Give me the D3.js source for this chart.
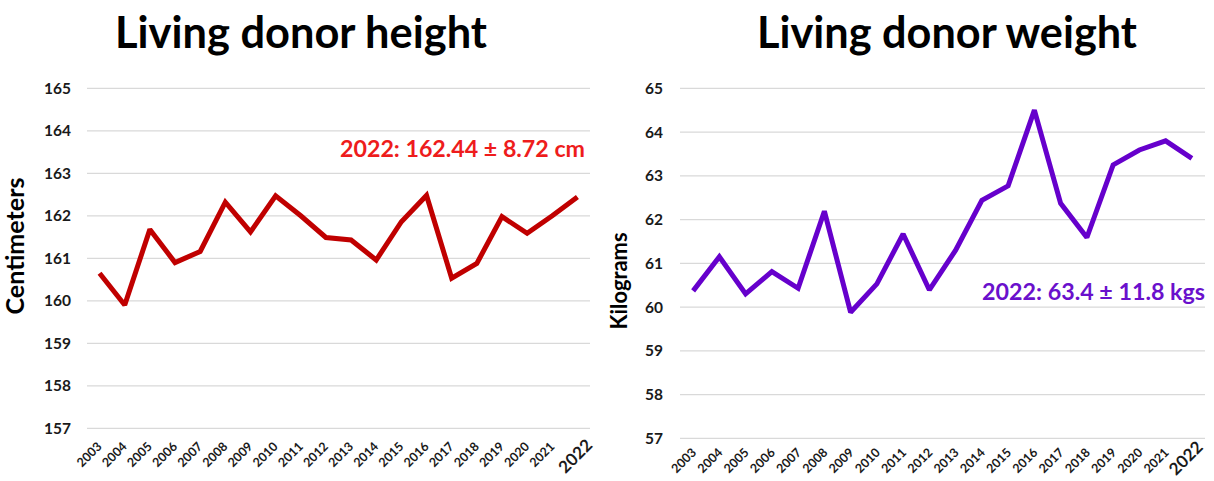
<!DOCTYPE html>
<html>
<head>
<meta charset="utf-8">
<script src="https://cdn.jsdelivr.net/npm/d3@7"></script>
<style>
  html, body { margin: 0; padding: 0; background: #ffffff; }
  svg { display: block; }
  text { font-family: Lato, "Open Sans", "Liberation Sans", sans-serif; }
</style>
</head>
<body>
<svg id="chart" width="1214" height="481"></svg>
<script>
// Years shown on both x axes
const years = ["2003","2004","2005","2006","2007","2008","2009","2010","2011","2012",
               "2013","2014","2015","2016","2017","2018","2019","2020","2021","2022"];

// Mean living donor height per year (cm)
const heightValues = [160.65, 159.90, 161.68, 160.90, 161.16, 162.32, 161.62, 162.47, 162.00, 161.49,
                      161.43, 160.96, 161.86, 162.48, 160.53, 160.88, 161.98, 161.59, 162.00, 162.44];

// Mean living donor weight per year (kg)
const weightValues = [60.37, 61.15, 60.30, 60.81, 60.43, 62.19, 59.88, 60.53, 61.67, 60.39,
                      61.30, 62.44, 62.77, 64.50, 62.37, 61.59, 63.25, 63.59, 63.80, 63.40];

const heightTicks = [157, 158, 159, 160, 161, 162, 163, 164, 165];
const weightTicks = [57, 58, 59, 60, 61, 62, 63, 64, 65];

const panels = [
  {
    title: "Living donor height", titleCenter: 301, titleWidth: 372,
    yLabel: "Centimeters", yLabelX: 17, yLabelY: 246, yLabelWidth: 137,
    values: heightValues, ticks: heightTicks, domain: [157, 165],
    x0: 87, x1: 590, yTop: 88.3, yBottom: 428.3, tickLabelX: 71,
    smallShift: [3, 19], lastShift: [16, 18],
    color: "#c00000", noteColor: "#ee1c1c",
    note: "2022: 162.44 \u00b1 8.72 cm", noteRight: 585, noteBase: 157, noteWidth: 245
  },
  {
    title: "Living donor weight", titleCenter: 947, titleWidth: 380,
    yLabel: "Kilograms", yLabelX: 620, yLabelY: 281, yLabelWidth: 97,
    values: weightValues, ticks: weightTicks, domain: [57, 65],
    x0: 680, x1: 1205, yTop: 88.3, yBottom: 438.3, tickLabelX: 663,
    smallShift: [4, 15], lastShift: [12, 10],
    color: "#6600cc", noteColor: "#6a10cc",
    note: "2022: 63.4 \u00b1 11.8 kgs", noteRight: 1205, noteBase: 300, noteWidth: 223
  }
];

const svg = d3.select("#chart");

// Scale a text's font size so its rendered length equals the given width
function fitWidth(sel, width) {
  const node = sel.node();
  const fs = parseFloat(sel.attr("font-size"));
  const w = node.getComputedTextLength();
  if (w > 0) sel.attr("font-size", (fs * width / w).toFixed(2));
  return sel;
}

panels.forEach(p => {
  const g = svg.append("g");

  const x = d3.scaleBand().domain(years).range([p.x0, p.x1]);
  const y = d3.scaleLinear().domain(p.domain).range([p.yBottom, p.yTop]);
  const cx = d => x(d) + x.bandwidth() / 2;

  // Horizontal gridlines
  g.append("g").selectAll("line")
    .data(p.ticks)
    .join("line")
    .attr("x1", p.x0).attr("x2", p.x1)
    .attr("y1", d => y(d)).attr("y2", d => y(d))
    .attr("stroke", "#d9d9d9").attr("stroke-width", 1.2);

  // Y tick labels
  const yAxis = d3.axisLeft(y).tickValues(p.ticks).tickSize(0).tickPadding(0);
  const ya = g.append("g").attr("transform", `translate(${p.tickLabelX},0)`).call(yAxis);
  ya.select(".domain").remove();
  ya.selectAll("text")
    .attr("font-size", 15.5).attr("font-weight", 700).attr("fill", "#1a1a1a")
    .style("font-family", "Lato, 'Open Sans', sans-serif");

  // X tick labels, rotated; the latest year is set larger
  const xAxis = d3.axisBottom(x).tickSize(0).tickPadding(0);
  const xa = g.append("g").attr("transform", `translate(0,${p.yBottom})`).call(xAxis);
  xa.select(".domain").remove();
  xa.selectAll(".tick text")
    .attr("text-anchor", "end")
    .attr("dy", null)
    .attr("y", null)
    .attr("font-size", d => d === "2022" ? 17 : 12.5)
    .attr("font-weight", 700)
    .attr("fill", "#1a1a1a")
    .style("font-family", "Lato, 'Open Sans', sans-serif")
    .attr("transform", d => {
      const s = d === "2022" ? p.lastShift : p.smallShift;
      return `translate(${s[0]},${s[1]}) rotate(-45)`;
    });

  // Data line
  const line = d3.line()
    .x((d, i) => cx(years[i]))
    .y(d => y(d));
  g.append("path")
    .datum(p.values)
    .attr("d", line)
    .attr("fill", "none")
    .attr("stroke", p.color)
    .attr("stroke-width", 5)
    .attr("stroke-linejoin", "miter")
    .attr("stroke-miterlimit", 2);

  // Title
  const t = g.append("text")
    .attr("x", p.titleCenter).attr("y", 48)
    .attr("text-anchor", "middle")
    .attr("font-size", 40).attr("font-weight", 700).attr("fill", "#000")
    .text(p.title);
  fitWidth(t, p.titleWidth);

  // Y axis title
  const yl = g.append("text")
    .attr("transform", `translate(${p.yLabelX + 7},${p.yLabelY}) rotate(-90)`)
    .attr("text-anchor", "middle")
    .attr("font-size", 20).attr("font-weight", 700).attr("fill", "#000")
    .text(p.yLabel);
  fitWidth(yl, p.yLabelWidth);

  // 2022 summary note
  const n = g.append("text")
    .attr("x", p.noteRight).attr("y", p.noteBase)
    .attr("text-anchor", "end")
    .attr("font-size", 22).attr("font-weight", 700).attr("fill", p.noteColor)
    .text(p.note);
  fitWidth(n, p.noteWidth);
});
</script>
</body>
</html>
